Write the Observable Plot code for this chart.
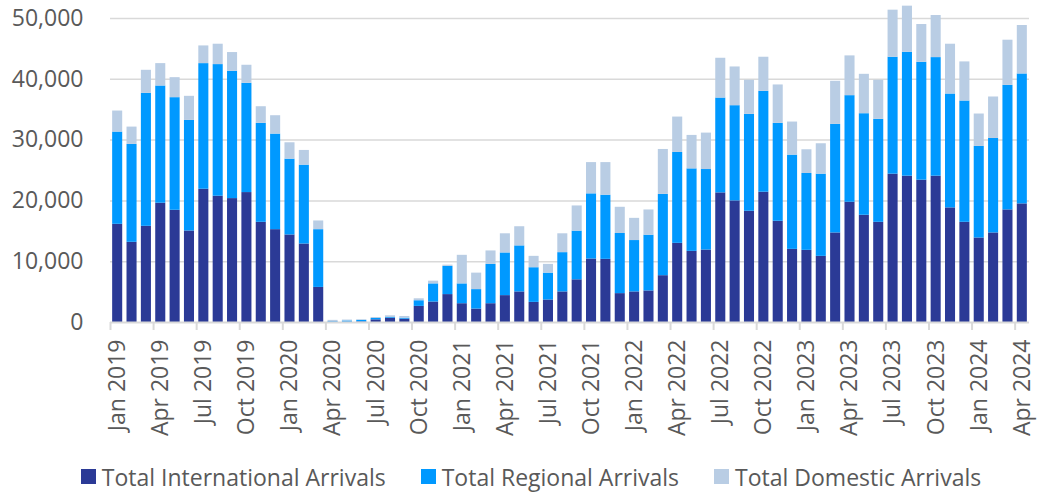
<!DOCTYPE html>
<html><head><meta charset="utf-8">
<script src="https://cdn.jsdelivr.net/npm/d3@7"></script>
<script src="https://cdn.jsdelivr.net/npm/@observablehq/plot@0.6"></script>
<style>
html,body{margin:0;padding:0;background:#fff;}
body{font-family:"Open Sans",sans-serif;width:1045px;}
#legend{display:flex;justify-content:center;align-items:center;gap:35px;height:33px;padding-top:10px;padding-left:17px;font-size:23px;color:#595959;}
#legend .item{display:flex;align-items:center;gap:6px;}
#legend .sw{width:15px;height:15px;display:inline-block;}
</style></head><body>
<div id="chart"></div>
<div id="legend"></div>
<script>
const monthNames = ["Jan","Feb","Mar","Apr","May","Jun","Jul","Aug","Sep","Oct","Nov","Dec"];
const years = [2019,2020,2021,2022,2023,2024];
const monthsInLastYear = 4;
const seriesNames = ["Total International Arrivals","Total Regional Arrivals","Total Domestic Arrivals"];
const seriesColors = ["#2B3A96","#0099FF","#B9CDE4"];
const yTicks = [0,10000,20000,30000,40000,50000];

const international = [
  16150,13190,15820,19620,18460,15050,21920,20770,20380,21370,16480,15270,
  14400,12910,5770,50,50,100,440,710,550,2650,3370,4590,
  3090,2210,3090,4420,5030,3310,3700,5030,7020,10440,10390,4750,
  5030,5190,7700,13020,11700,11920,21320,20000,18300,21430,16650,12030,
  11870,10880,14730,19780,17640,16480,24400,24070,23410,24070,18850,16480,
  13900,14730,18520,19510
];
const regional = [
  15170,16100,21870,19280,18520,18190,20660,21650,20940,17970,16270,15720,
  12470,12970,9500,100,200,250,220,110,160,930,2980,4640,
  3260,3200,6470,7020,7570,5700,4420,6460,8010,10720,10550,9890,
  8450,9170,13370,14950,13570,13240,15600,15660,15930,16590,16100,15500,
  12640,13520,17850,17530,16700,16930,19230,20380,19390,19500,18730,19950,
  15060,15540,20490,21370
];
const domestic = [
  3460,2850,3790,3680,3290,3960,2910,3350,3080,2970,2740,3020,
  2690,2420,1430,200,150,100,160,280,280,320,450,200,
  4700,2710,2210,3150,3150,1870,1440,3100,4140,5140,5360,4310,
  3650,4150,7390,5820,5500,5990,6540,6370,5610,5610,6320,5440,
  3900,5000,7090,6540,6480,6430,7740,7580,6210,6920,8190,6430,
  5330,6820,7420,7970
];

const months = [];
years.forEach((y, yi) => {
  const count = yi === years.length - 1 ? monthsInLastYear : 12;
  for (let m = 0; m < count; m++) months.push(monthNames[m] + " " + y);
});
const seriesValues = [international, regional, domestic];
const data = [];
seriesNames.forEach((s, si) => {
  months.forEach((mo, i) => data.push({month: mo, series: s, value: seriesValues[si][i]}));
});
const tickMonths = months.filter((d, i) => i % 3 === 0);

const W = 1045, H = 450, mL = 110, mR = 16, mT = 18, mB = 128;
const step = (W - mL - mR) / months.length;

const chart = Plot.plot({
  width: W, height: H,
  marginLeft: mL, marginRight: mR, marginTop: mT, marginBottom: mB,
  style: {fontFamily: "'Open Sans', sans-serif", fontSize: "23px", color: "#595959", background: "#fff", overflow: "visible"},
  x: {type: "band", domain: months, paddingInner: 0.3, paddingOuter: 0.15, round: false, label: null},
  y: {domain: [0, 50000], label: null},
  color: {domain: seriesNames, range: seriesColors},
  marks: [
    Plot.gridY(yTicks.filter(d => d > 0), {stroke: "#d9d9d9", strokeOpacity: 1, strokeWidth: 1.5}),
    Plot.barY(data, Plot.stackY({x: "month", y: "value", fill: "series", order: seriesNames})),
    Plot.ruleY([0], {stroke: "#d9d9d9", strokeWidth: 2}),
    Plot.axisY(yTicks, {tickSize: 0, tickPadding: 27, tickFormat: d3.format(","), fill: "#595959", fontSize: 23, label: null}),
    Plot.axisX(tickMonths, {tickSize: 0, tickPadding: 17, tickRotate: -90, fill: "#595959", fontSize: 23, label: null}),
    Plot.axisX(tickMonths, {tickSize: 8, tickFormat: () => "", fill: "none", dx: -step / 2, stroke: "#d9d9d9", strokeWidth: 2, strokeOpacity: 1, label: null})
  ]
});
document.getElementById("chart").appendChild(chart);

const legend = document.getElementById("legend");
seriesNames.forEach((s, i) => {
  const item = document.createElement("div");
  item.className = "item";
  const sw = document.createElement("span");
  sw.className = "sw";
  sw.style.background = seriesColors[i];
  const t = document.createElement("span");
  t.textContent = s;
  item.appendChild(sw); item.appendChild(t);
  legend.appendChild(item);
});
</script>
</body></html>
